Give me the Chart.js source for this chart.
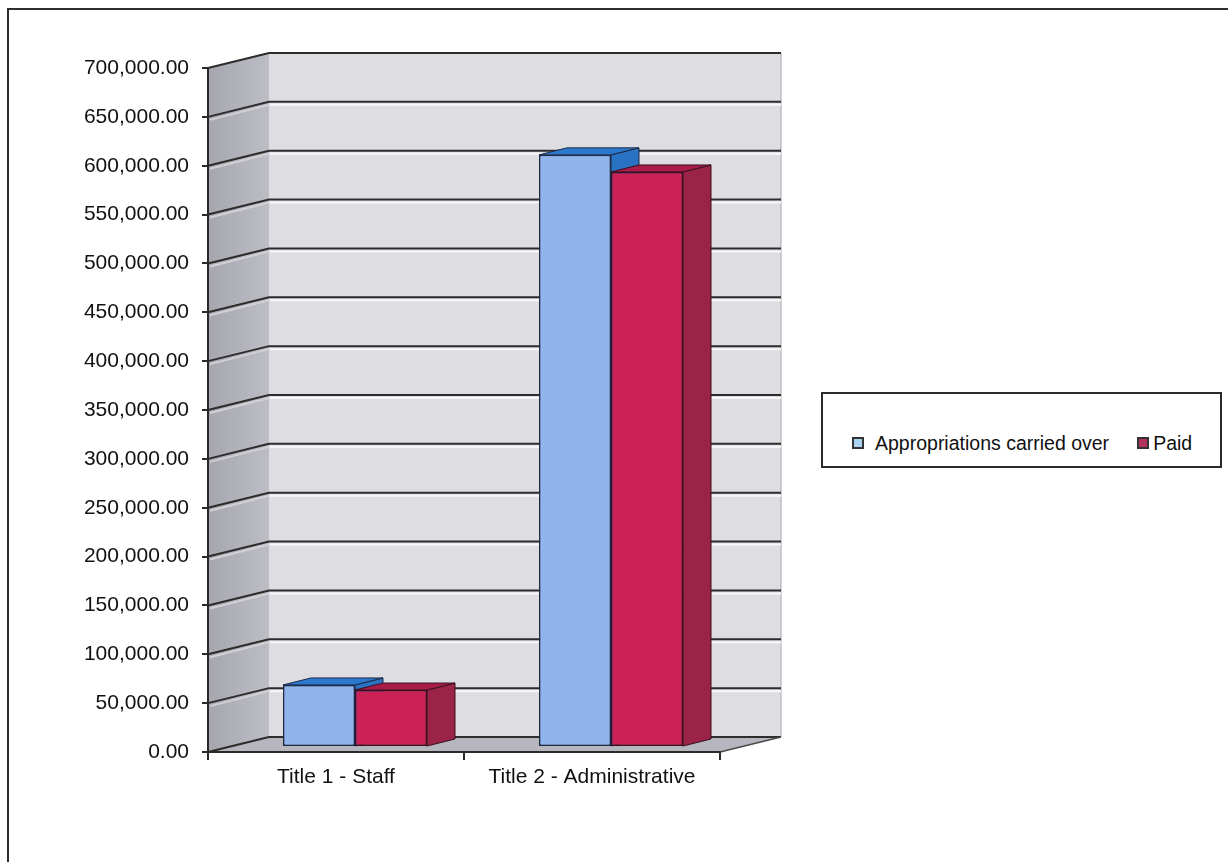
<!DOCTYPE html>
<html>
<head>
<meta charset="utf-8">
<title>Appropriations carried over and paid</title>
<script src="https://cdn.jsdelivr.net/npm/chart.js@4.4.1/dist/chart.umd.min.js"></script>
<style>
  html, body { margin: 0; padding: 0; background: #ffffff; }
  #wrap { position: relative; width: 1228px; height: 862px; overflow: hidden; }
  #legend {
    position: absolute; left: 821px; top: 392px; width: 397px; height: 72px;
    border: 2px solid #2b2b2b; background: #ffffff;
    font-family: "Liberation Sans", Arial, sans-serif; font-size: 19.5px; color: #111111;
  }
  #legend ul { list-style: none; margin: 0; padding: 0; position: absolute; left: 29px; top: 38px; display: flex; }
  #legend li { display: flex; align-items: center; white-space: nowrap; line-height: 22px; }
  #legend li:first-child { margin-right: 28px; }
  #legend .sw { display: inline-block; width: 8px; height: 8px; border: 2px solid #333; }
  #legend li:first-child .sw { margin-right: 11px; }
  #legend li:last-child .sw { margin-right: 4px; }
</style>
</head>
<body>
<div id="wrap">
  <canvas id="chart" width="1228" height="862"></canvas>
  <div id="legend"></div>
</div>
<script>
// Budget titles and amounts (EUR)
const categories = ['Title 1 - Staff', 'Title 2 - Administrative'];
const appropriationsCarriedOver = [63500, 606000];
const paid = [58300, 588500];
const seriesNames = ['Appropriations carried over', 'Paid'];
const yTickValues = [0, 50000, 100000, 150000, 200000, 250000, 300000, 350000,
                     400000, 450000, 500000, 550000, 600000, 650000, 700000];

// Oblique projection used for the walls and the column depth
const WALL = { dx: 61, dy: -15 };      // depth of the back wall
const BAR_SHIFT = { dx: 19, dy: -5 };  // columns sit part-way into the depth
const BAR_DEPTH = { dx: 28, dy: -7 };  // thickness of each column

const seriesStyle = [
  { front: '#8fb5ec', top: '#2b79cd', side: '#2a72c2', swatch: '#a9d3f2', edge: '#1d2a48' },
  { front: '#cc2157', top: '#a91c4a', side: '#9a2347', swatch: '#b2325f', edge: '#3a1020' }
];

function fmtAmount(v) {
  return Math.round(v).toString().replace(/\B(?=(\d{3})+(?!\d))/g, ',') + '.00';
}

function poly(ctx, pts, fill, stroke, lw) {
  ctx.beginPath();
  ctx.moveTo(pts[0][0], pts[0][1]);
  for (let i = 1; i < pts.length; i++) ctx.lineTo(pts[i][0], pts[i][1]);
  ctx.closePath();
  if (fill) { ctx.fillStyle = fill; ctx.fill(); }
  if (stroke) { ctx.strokeStyle = stroke; ctx.lineWidth = lw || 1; ctx.stroke(); }
}

// Draws the frame, the side wall, back wall, floor and the 3D gridlines,
// then adds top and side faces to every column.
const depth3d = {
  id: 'depth3d',
  beforeDraw(chart) {
    const ctx = chart.ctx;
    const { left: L, right: R, top: T, bottom: B } = chart.chartArea;
    const y = chart.scales.y;
    ctx.save();

    // outer frame
    ctx.strokeStyle = '#2e2e2e';
    ctx.lineWidth = 2;
    ctx.strokeRect(8, 9, 1400, 1000);

    // back wall
    ctx.fillStyle = '#dedee2';
    ctx.fillRect(L + WALL.dx, T + WALL.dy, R - L, B - T);
    ctx.strokeStyle = '#a8a8ae';
    ctx.lineWidth = 1;
    ctx.beginPath();
    ctx.moveTo(R + WALL.dx, T + WALL.dy);
    ctx.lineTo(R + WALL.dx, B + WALL.dy);
    ctx.stroke();

    // side wall
    const g = ctx.createLinearGradient(L, 0, L + WALL.dx, 0);
    g.addColorStop(0, '#a6a6ae');
    g.addColorStop(1, '#bdbdc5');
    poly(ctx, [[L, T], [L + WALL.dx, T + WALL.dy], [L + WALL.dx, B + WALL.dy], [L, B]], g);

    // floor
    poly(ctx, [[L, B], [R, B], [R + WALL.dx, B + WALL.dy], [L + WALL.dx, B + WALL.dy]], '#b6b6be');

    // gridlines across side wall and back wall
    yTickValues.forEach(v => {
      const py = y.getPixelForValue(v);
      if (v !== 0 && v !== yTickValues[yTickValues.length - 1]) {
        ctx.strokeStyle = '#f7f7f9';
        ctx.lineWidth = 2;
        ctx.beginPath();
        ctx.moveTo(L + WALL.dx + 1, py + WALL.dy + 3);
        ctx.lineTo(R + WALL.dx, py + WALL.dy + 3);
        ctx.stroke();
        ctx.strokeStyle = '#d0d0d6';
        ctx.beginPath();
        ctx.moveTo(L + 2, py + 3);
        ctx.lineTo(L + WALL.dx, py + WALL.dy + 3);
        ctx.stroke();
      }
      ctx.strokeStyle = '#2c2c2c';
      ctx.lineWidth = 2;
      ctx.beginPath();
      ctx.moveTo(L, py);
      ctx.lineTo(L + WALL.dx, py + WALL.dy);
      ctx.lineTo(R + WALL.dx, py + WALL.dy);
      ctx.stroke();
    });

    // right edge of the floor
    ctx.strokeStyle = '#4a4a4a';
    ctx.lineWidth = 1.5;
    ctx.beginPath();
    ctx.moveTo(R, B);
    ctx.lineTo(R + WALL.dx, B + WALL.dy);
    ctx.stroke();
    ctx.restore();
  },
  beforeDatasetsDraw(chart) {
    chart.ctx.save();
    chart.ctx.translate(BAR_SHIFT.dx, BAR_SHIFT.dy);
  },
  afterDatasetsDraw(chart) {
    const ctx = chart.ctx;
    const metas = chart.data.datasets.map((d, i) => chart.getDatasetMeta(i));
    categories.forEach((c, idx) => {
      metas.forEach((meta, d) => {
        const el = meta.data[idx];
        if (!el) return;
        const st = seriesStyle[d];
        const p = el.getProps(['x', 'y', 'base', 'width'], true);
        const l = p.x - p.width / 2, r = p.x + p.width / 2;
        const top = Math.min(p.y, p.base), bot = Math.max(p.y, p.base);
        // side face
        poly(ctx, [[r, top], [r + BAR_DEPTH.dx, top + BAR_DEPTH.dy],
                   [r + BAR_DEPTH.dx, bot + BAR_DEPTH.dy], [r, bot]], st.side, st.edge, 1);
        // top face
        poly(ctx, [[l, top], [l + BAR_DEPTH.dx, top + BAR_DEPTH.dy],
                   [r + BAR_DEPTH.dx, top + BAR_DEPTH.dy], [r, top]], st.top, st.edge, 1);
        // front face on top of the neighbour's side
        el.draw(ctx, chart.chartArea);
      });
    });
    ctx.restore();
  }
};

// Legend rendered as HTML from the chart's datasets
const htmlLegend = {
  id: 'htmlLegend',
  afterUpdate(chart) {
    const box = document.getElementById('legend');
    box.innerHTML = '';
    const ul = document.createElement('ul');
    chart.data.datasets.forEach((ds, i) => {
      const li = document.createElement('li');
      const sw = document.createElement('span');
      sw.className = 'sw';
      sw.style.background = seriesStyle[i].swatch;
      const tx = document.createElement('span');
      tx.textContent = ds.label;
      li.appendChild(sw);
      li.appendChild(tx);
      ul.appendChild(li);
    });
    box.appendChild(ul);
  }
};

Chart.defaults.font.family = '"Liberation Sans", Arial, sans-serif';
Chart.defaults.font.size = 21;
Chart.defaults.color = '#111111';

new Chart(document.getElementById('chart'), {
  type: 'bar',
  data: {
    labels: categories,
    datasets: [
      { label: seriesNames[0], data: appropriationsCarriedOver,
        backgroundColor: seriesStyle[0].front, borderColor: seriesStyle[0].edge,
        borderWidth: 1.5, borderSkipped: false },
      { label: seriesNames[1], data: paid,
        backgroundColor: seriesStyle[1].front, borderColor: seriesStyle[1].edge,
        borderWidth: 1.5, borderSkipped: false }
    ]
  },
  options: {
    responsive: false,
    animation: false,
    devicePixelRatio: 1,
    layout: { padding: { left: 0, top: 68, right: 508, bottom: 0 } },
    datasets: { bar: { categoryPercentage: 0.5625, barPercentage: 1 } },
    plugins: {
      legend: { display: false },
      tooltip: { enabled: false },
      title: { display: false }
    },
    scales: {
      x: {
        offset: true,
        grid: { drawOnChartArea: false, drawTicks: true, tickLength: 8, color: '#2a2a2a', lineWidth: 2 },
        border: { display: true, color: '#2a2a2a', width: 2 },
        ticks: { padding: 5, maxRotation: 0, autoSkip: false },
        afterFit: s => { s.height = 110; }
      },
      y: {
        min: 0,
        max: 700000,
        afterBuildTicks: s => { s.ticks = yTickValues.map(v => ({ value: v })); },
        grid: { drawOnChartArea: false, drawTicks: true, tickLength: 6, color: '#2a2a2a', lineWidth: 2 },
        border: { display: true, color: '#2a2a2a', width: 2 },
        ticks: { padding: 13, callback: v => fmtAmount(v) },
        afterFit: s => { s.width = 208; }
      }
    }
  },
  plugins: [depth3d, htmlLegend]
});
</script>
</body>
</html>
